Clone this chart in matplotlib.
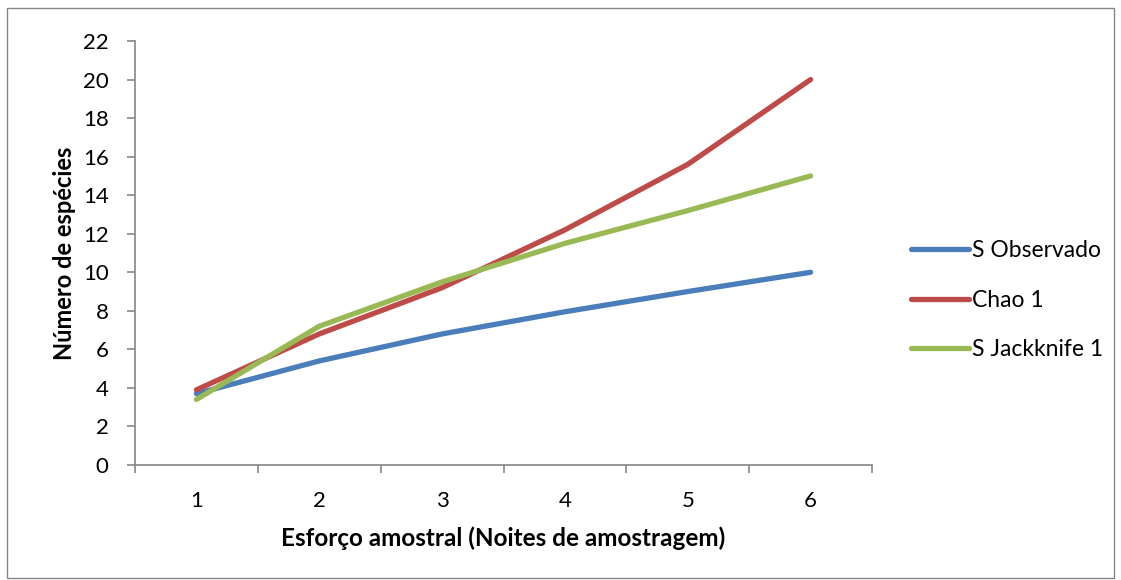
import matplotlib
matplotlib.use("Agg")
import matplotlib.pyplot as plt
from matplotlib.patches import Rectangle

plt.rcParams['font.family'] = ['Lato', 'DejaVu Sans']

x_labels = ["1", "2", "3", "4", "5", "6"]
s_observado = [3.7, 5.4, 6.8, 7.95, 9.0, 10.0]
chao1 = [3.9, 6.8, 9.2, 12.2, 15.6, 20.0]
jackknife1 = [3.4, 7.2, 9.5, 11.5, 13.2, 15.0]
series_names = ["S Observado", "Chao 1", "S Jackknife 1"]
colors = ["#4A7EBB", "#BE4B48", "#98B954"]

W, H = 1121, 580
fig = plt.figure(figsize=(W / 100, H / 100), dpi=100)
ax = fig.add_axes([135 / W, 1 - 465 / H, (872 - 135) / W, (465 - 41) / H])

xs = list(range(1, len(x_labels) + 1))
for vals, name, c in zip([s_observado, chao1, jackknife1], series_names, colors):
    ax.plot(xs, vals, color=c, lw=3.8, solid_capstyle='round', solid_joinstyle='round', label=name)

ax.set_xlim(0.5, 6.5)
ax.set_ylim(0, 22)
ax.set_yticks(range(0, 23, 2))
ax.set_xticks(xs)
ax.set_xticklabels(x_labels)
ax.set_xticks([i + 0.5 for i in range(0, 7)], minor=True)
ax.tick_params(axis='x', which='major', length=0, pad=19, labelsize=16)
ax.tick_params(axis='x', which='minor', length=6, width=1.2, color='#868686', direction='out')
ax.tick_params(axis='y', length=6, width=1.2, color='#868686', direction='out', labelsize=16, pad=13)

for side in ['top', 'right']:
    ax.spines[side].set_visible(False)
for side in ['left', 'bottom']:
    ax.spines[side].set_color('#868686')
    ax.spines[side].set_linewidth(1.2)

ax.set_ylabel("Número de espécies", fontsize=17, fontweight='bold', labelpad=5)
ax.set_xlabel("Esforço amostral (Noites de amostragem)", fontsize=17.5, fontweight='bold', labelpad=11)

leg = ax.legend(loc='center left', bbox_to_anchor=(1.038, 0.389), frameon=False, fontsize=16.5,
                handlelength=2.5, handletextpad=0.15, labelspacing=1.25, borderpad=0)

fig.patches.append(Rectangle((7 / W, 2 / H), (W - 14) / W, (H - 10) / H, transform=fig.transFigure,
                             fill=False, edgecolor='#868686', lw=1.0))

fig.savefig("out.png", dpi=100)
